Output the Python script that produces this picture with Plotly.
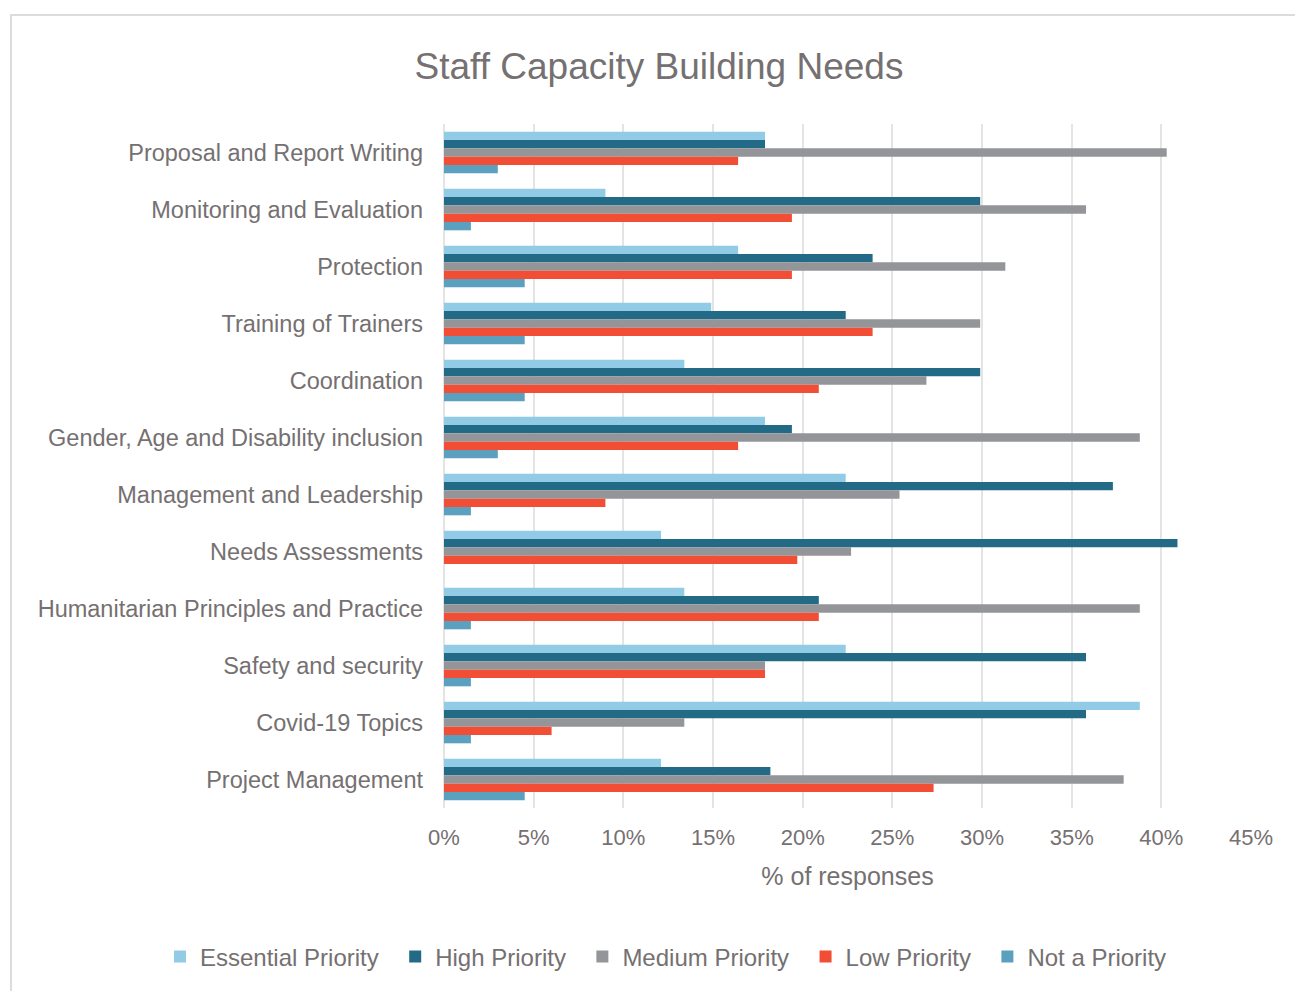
import plotly.graph_objects as go

categories = [
    "Proposal and Report Writing",
    "Monitoring and Evaluation",
    "Protection",
    "Training of Trainers",
    "Coordination",
    "Gender, Age and Disability inclusion",
    "Management and Leadership",
    "Needs Assessments",
    "Humanitarian Principles and Practice",
    "Safety and security",
    "Covid-19 Topics",
    "Project Management",
]

essential = [17.9, 9.0, 16.4, 14.9, 13.4, 17.9, 22.4, 12.1, 13.4, 22.4, 38.8, 12.1]
high      = [17.9, 29.9, 23.9, 22.4, 29.9, 19.4, 37.3, 40.9, 20.9, 35.8, 35.8, 18.2]
medium    = [40.3, 35.8, 31.3, 29.9, 26.9, 38.8, 25.4, 22.7, 38.8, 17.9, 13.4, 37.9]
low       = [16.4, 19.4, 19.4, 23.9, 20.9, 16.4, 9.0, 19.7, 20.9, 17.9, 6.0, 27.3]
not_prio  = [3.0, 1.5, 4.5, 4.5, 4.5, 3.0, 1.5, 0.0, 1.5, 1.5, 1.5, 4.5]

series_names = ["Essential Priority", "High Priority", "Medium Priority", "Low Priority", "Not a Priority"]
series_values = [essential, high, medium, low, not_prio]
series_colors = ["#91CBE5", "#236A87", "#939598", "#F24E35", "#5BA0BF"]

x_ticks = [0, 5, 10, 15, 20, 25, 30, 35, 40, 45]
x_tick_labels = [f"{t}%" for t in x_ticks]

TEXT = "#757071"
FONT = "Liberation Sans, Arial, sans-serif"
PAD = "\u00a0\u2009"  # small trailing spacing between legend entries

fig = go.Figure()
for name, vals, col in zip(series_names, series_values, series_colors):
    fig.add_trace(go.Bar(
        y=categories, x=vals, name=name + PAD, orientation="h",
        marker=dict(color=col, line=dict(width=0)),
    ))

W, H = 1295, 991
ml, mr, mt, mb = 444, 44, 124, 183
pw, ph = W - ml - mr, H - mt - mb

fig.update_layout(
    width=W, height=H,
    margin=dict(l=ml, r=mr, t=mt, b=mb, pad=0, autoexpand=False),
    paper_bgcolor="white", plot_bgcolor="white",
    barmode="group", bargap=0.27, bargroupgap=0,
    font=dict(family=FONT, color=TEXT, size=22),
    title=dict(text="Staff Capacity Building Needs", x=659 / W, xanchor="center",
               xref="container", y=1 - 66 / H, yanchor="middle", yref="container",
               font=dict(size=37, color=TEXT, family=FONT)),
    xaxis=dict(range=[0, 45], tickvals=x_ticks, ticktext=x_tick_labels,
               showgrid=True, gridcolor="#E4E4E4", gridwidth=2,
               zeroline=True, zerolinecolor="#E4E4E4", zerolinewidth=2,
               showline=False, ticks="", ticklabelstandoff=14, automargin=False,
               tickfont=dict(size=22, color=TEXT),
               title=dict(text="% of responses", standoff=18,
                          font=dict(size=25, color=TEXT))),
    yaxis=dict(autorange="reversed", showgrid=False, zeroline=False, showline=False,
               ticks="", ticklabelstandoff=20, automargin=False,
               tickfont=dict(size=23.5, color=TEXT)),
    legend=dict(orientation="h", xref="paper", yref="paper",
                x=(160 - ml) / pw, xanchor="left",
                y=(H - mb - 957) / ph, yanchor="middle",
                traceorder="normal", font=dict(size=24, color=TEXT),
                itemwidth=30, bgcolor="rgba(0,0,0,0)"),
    shapes=[dict(type="rect", xref="paper", yref="paper",
                 x0=(11 - ml) / pw, x1=2.0,
                 y0=-1.0, y1=(H - mb - 15) / ph,
                 line=dict(color="#DCDCDC", width=2), fillcolor="rgba(0,0,0,0)",
                 layer="below")],
)

fig.write_html("out.html", config={"displayModeBar": False},
               post_script="document.body.style.margin='0';document.body.style.overflow='hidden';")
